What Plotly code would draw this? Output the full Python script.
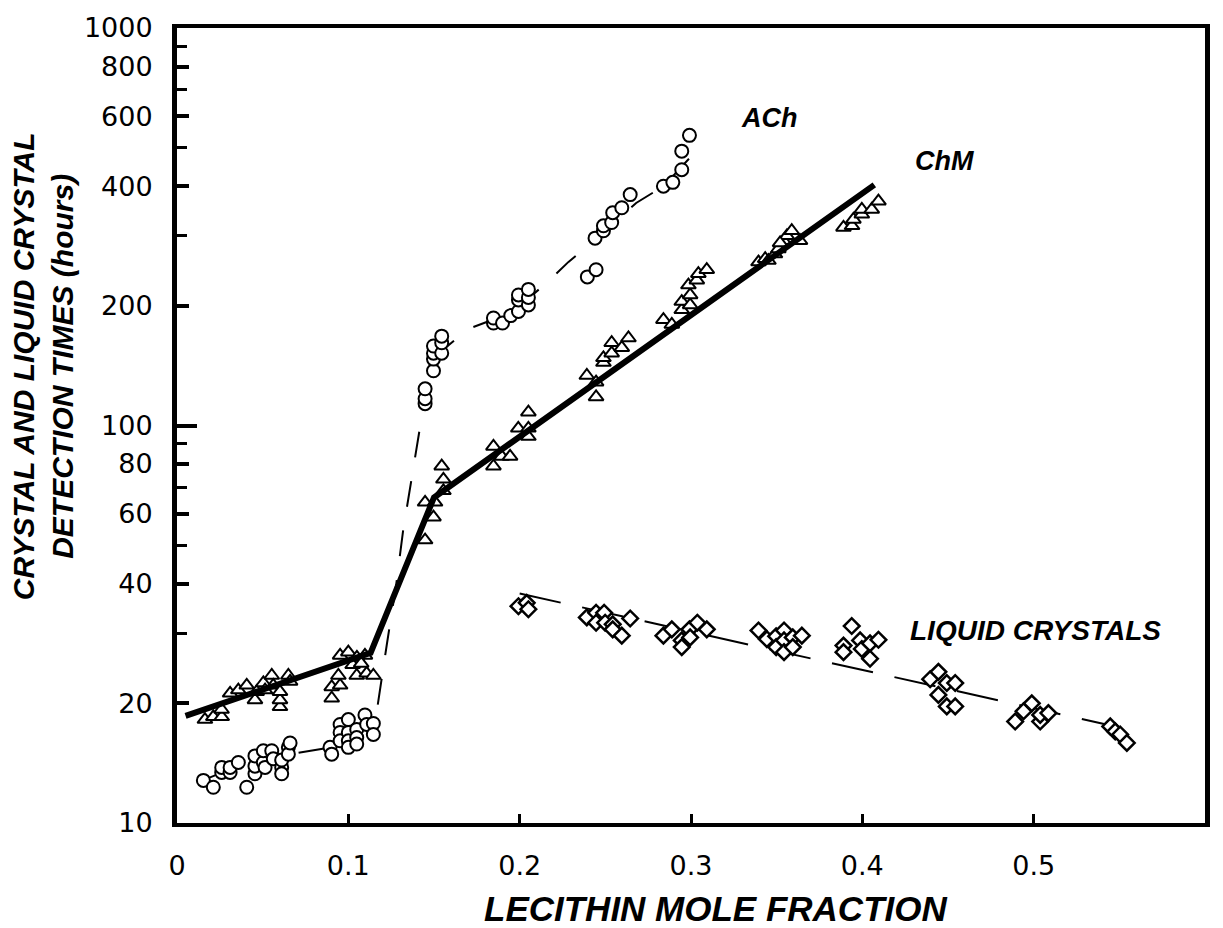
import plotly.graph_objects as go
import numpy as np

# ---------------- data ----------------
# ChM crystals (triangles)
chm_x = [0.0163, 0.0212, 0.0261, 0.026, 0.031, 0.0358, 0.0407, 0.0455, 0.0465, 0.0504, 0.0514,
         0.0553, 0.0562, 0.0601, 0.0601, 0.0601, 0.065, 0.066, 0.0903, 0.0903, 0.0952, 0.0942,
         0.0952, 0.100, 0.1049, 0.1097, 0.1107, 0.1146, 0.105, 0.1025, 0.1075,
         0.1448, 0.1497, 0.1448, 0.1506, 0.1555, 0.1555, 0.1545, 0.1847, 0.1847, 0.1895, 0.1944,
         0.1992, 0.2051, 0.2051, 0.2051, 0.2392, 0.2446, 0.2446, 0.2489, 0.2489, 0.2537, 0.2537,
         0.2596, 0.2635, 0.2839, 0.2888, 0.2946, 0.2946, 0.2995, 0.2995, 0.2985, 0.3034, 0.3043,
         0.3092, 0.3394, 0.3433, 0.3452, 0.349, 0.351, 0.354, 0.356, 0.3588, 0.3636, 0.352,
         0.389, 0.394, 0.3948, 0.3997, 0.3997, 0.4055, 0.4094]
chm_y = [18.2, 18.5, 18.5, 19.3, 21.2, 21.6, 22.2, 20.4, 21.4, 22.5, 21.6,
         23.5, 22.2, 19.6, 20.4, 21.4, 23.5, 22.7, 20.6, 22.0, 22.2, 23.5,
         26.4, 26.9, 23.5, 26.4, 23.8, 23.5, 26.1, 25.0, 25.2,
         51.5, 58.8, 64.1, 64.1, 68.5, 73.2, 79.0, 79.0, 88.6, 83.6, 83.6,
         98.4, 98.4, 93.8, 108, 133.6, 118, 128.5, 144, 148, 152, 161.5,
         157, 166, 184.6, 179.5, 195.5, 205, 201, 213, 225.6, 232, 241,
         246.6, 257.8, 262.7, 260, 270, 278, 291.7, 300, 309, 291.7, 288,
         315, 318, 330, 340, 349.7, 349.7, 366.7]

# ACh crystals (circles)
ach_x = [0.0154, 0.0212, 0.0261, 0.0261, 0.031, 0.031, 0.0358, 0.0407, 0.0455, 0.0455, 0.0455,
         0.0504, 0.0504, 0.0514, 0.0553, 0.0562, 0.0611, 0.0611, 0.0611, 0.065, 0.065, 0.066,
         0.0893, 0.0903, 0.0952, 0.0952, 0.0952, 0.100, 0.100, 0.100, 0.100, 0.1049, 0.1049,
         0.1049, 0.1097, 0.1107, 0.1146, 0.1146,
         0.1448, 0.1448, 0.1448, 0.1497, 0.1497, 0.1497, 0.1497, 0.1545, 0.1545, 0.1545,
         0.1847, 0.1847, 0.190, 0.1948, 0.1993, 0.1993, 0.1993, 0.2051, 0.2051, 0.2051,
         0.2395, 0.2446, 0.244, 0.2489, 0.2489, 0.2537, 0.2543, 0.2596, 0.2645,
         0.2839, 0.2894, 0.2946, 0.2946, 0.2991]
ach_y = [12.8, 12.3, 13.4, 13.8, 13.4, 13.8, 14.2, 12.3, 13.3, 13.9, 14.75,
         14.2, 15.2, 13.8, 15.2, 14.5, 13.8, 13.3, 14.4, 15.5, 14.9, 15.9,
         15.5, 14.9, 17.7, 16.9, 16.1, 18.2, 16.9, 16.1, 15.5, 17.2, 16.4,
         15.8, 18.7, 17.7, 17.8, 16.7,
         113.5, 116.8, 123.7, 137.3, 146.9, 152, 158.5, 152, 161.5, 167.8,
         181, 186.4, 181, 189, 193.6, 207, 213, 201, 210, 220,
         236.5, 246.6, 296, 309, 318, 324, 343, 353, 381,
         400, 409, 440, 490, 537]

# Liquid crystals (diamonds)
lc_x = [0.1993, 0.2041, 0.2051, 0.2392, 0.2446, 0.2493, 0.2446, 0.2499, 0.2543, 0.2543,
        0.2596, 0.2645, 0.2839, 0.2888, 0.2946, 0.2946, 0.2991, 0.2995, 0.3037, 0.3092,
        0.3394, 0.3443, 0.3497, 0.3497, 0.3543, 0.3543, 0.3543, 0.3594, 0.3594, 0.3647,
        0.3938, 0.389, 0.389, 0.3987, 0.3997, 0.4045, 0.4045, 0.4094,
        0.4396, 0.4444, 0.4493, 0.4542, 0.4444, 0.4493, 0.4542,
        0.4892, 0.4941, 0.4989, 0.5038, 0.5038, 0.5086,
        0.5447, 0.5476, 0.5505, 0.5544]
lc_y = [35.1, 35.8, 34.5, 32.9, 33.8, 33.8, 31.9, 31.9, 31.6, 30.7,
        29.6, 32.7, 29.6, 30.7, 28.8, 27.7, 30.7, 29.3, 31.9, 30.7,
        30.5, 29.0, 29.5, 27.7, 30.5, 28.8, 26.9, 29.3, 27.7, 29.6,
        31.3, 27.95, 26.9, 28.8, 27.4, 28.3, 25.9, 28.9,
        23.0, 24.0, 22.5, 22.5, 21.0, 19.65, 19.65,
        18.0, 19.1, 20.0, 18.0, 18.7, 18.9,
        17.5, 17.0, 16.7, 15.9]

# fitted curves
chm_fit_x = [0.005, 0.113, 0.150, 0.407]
chm_fit_y = [18.6, 26.8, 65.9, 403]

ach_fit_x = [0.015, 0.030, 0.070, 0.090, 0.112, 0.1166, 0.1224, 0.128, 0.132, 0.136, 0.142,
             0.145, 0.150, 0.156, 0.170, 0.185, 0.200, 0.216, 0.2285, 0.245, 0.268, 0.284, 0.300]
ach_fit_y = [12.8, 13.6, 15.0, 15.5, 17.5, 19.1, 28, 40, 54.5, 70, 100,
             118, 140, 156, 175, 185, 200, 229, 258, 295, 363, 400, 475]

lc_fit_x = [0.200, 0.545]
lc_fit_y = [37.8, 17.6]

y_tick_vals = [10, 20, 40, 60, 80, 100, 200, 400, 600, 800, 1000]
y_minor_vals = [30, 50, 70, 90, 300, 500, 700, 900]
y_long_ticks = [10, 100, 1000]
x_tick_vals = [0, 0.1, 0.2, 0.3, 0.4, 0.5, 0.6]
x_tick_text = ["0", "0.1", "0.2", "0.3", "0.4", "0.5", "0.6"]

# ---------------- figure ----------------
fig = go.Figure()

fig.add_trace(go.Scatter(x=ach_fit_x, y=ach_fit_y, mode="lines",
                         line=dict(color="black", width=2, dash="26px,24px"),
                         hoverinfo="skip", showlegend=False))
fig.add_trace(go.Scatter(x=lc_fit_x, y=lc_fit_y, mode="lines",
                         line=dict(color="black", width=2, dash="42px,22px"),
                         hoverinfo="skip", showlegend=False))

fig.add_trace(go.Scatter(x=ach_x, y=ach_y, mode="markers", name="ACh",
                         marker=dict(symbol="circle", size=13, color="white",
                                     line=dict(color="black", width=2)),
                         showlegend=False))
fig.add_trace(go.Scatter(x=lc_x, y=lc_y, mode="markers", name="Liquid crystals",
                         marker=dict(symbol="diamond", size=12, color="white",
                                     line=dict(color="black", width=2.5)),
                         showlegend=False))
fig.add_trace(go.Scatter(x=chm_x, y=chm_y, mode="markers", name="ChM",
                         marker=dict(symbol="triangle-up", size=13, color="white",
                                     line=dict(color="black", width=2)),
                         showlegend=False))
fig.add_trace(go.Scatter(x=chm_fit_x, y=chm_fit_y, mode="lines",
                         line=dict(color="black", width=6),
                         hoverinfo="skip", showlegend=False))
# invisible trace on the overlay axis that carries the long decade ticks
fig.add_trace(go.Scatter(x=chm_fit_x, y=chm_fit_y, mode="lines", yaxis="y2",
                         line=dict(color="rgba(0,0,0,0)", width=0),
                         hoverinfo="skip", showlegend=False))

ann_font = dict(family="Liberation Sans, Arial", size=27, color="black")
fig.add_annotation(x=0.346, y=np.log10(593), text="<b><i>ACh</i></b>", showarrow=False, font=ann_font)
fig.add_annotation(x=0.448, y=np.log10(462), text="<b><i>ChM</i></b>", showarrow=False, font=ann_font)
fig.add_annotation(x=0.501, y=np.log10(30.5), text="<b><i>LIQUID CRYSTALS</i></b>", showarrow=False,
                   font=dict(family="Liberation Sans, Arial", size=28, color="black"))

fig.add_annotation(xref="paper", yref="paper", x=-0.13, y=0.575, textangle=-90,
                   text="<b><i>CRYSTAL AND LIQUID CRYSTAL<br>DETECTION TIMES (hours)</i></b>",
                   showarrow=False, xanchor="center", yanchor="middle",
                   font=dict(family="Liberation Sans, Arial", size=30, color="black"))
fig.add_annotation(xref="paper", yref="paper", x=0.524, y=-0.108,
                   text="<b><i>LECITHIN MOLE FRACTION</i></b>",
                   showarrow=False, xanchor="center", yanchor="middle",
                   font=dict(family="Liberation Sans, Arial", size=35, color="black"))

tick_font = dict(family="DejaVu Sans", size=27, color="black")

fig.update_xaxes(range=[0, 0.6], tickmode="array", tickvals=x_tick_vals, ticktext=x_tick_text,
                 showline=True, linecolor="black", linewidth=4, mirror=True,
                 ticks="inside", ticklen=9, tickwidth=3, tickcolor="black",
                 showgrid=False, zeroline=False, tickfont=tick_font, ticklabelstandoff=16)
fig.update_yaxes(type="log", range=[1, 3], tickmode="array", tickvals=y_tick_vals,
                 ticktext=[str(v) for v in y_tick_vals],
                 showline=True, linecolor="black", linewidth=5, mirror=True,
                 ticks="inside", ticklen=12, tickwidth=4, tickcolor="black",
                 minor=dict(tickmode="array", tickvals=y_minor_vals, ticks="inside",
                            ticklen=10, tickwidth=3, tickcolor="black", showgrid=False),
                 showgrid=False, zeroline=False, tickfont=tick_font, ticklabelstandoff=14)

fig.update_layout(width=1223, height=928, autosize=False,
                  margin=dict(l=177, r=18, t=18, b=105),
                  paper_bgcolor="white", plot_bgcolor="white",
                  yaxis2=dict(type="log", range=[1, 3], overlaying="y", side="left",
                              tickmode="array", tickvals=y_long_ticks, showticklabels=False,
                              ticks="inside", ticklen=20, tickwidth=4, tickcolor="black",
                              showgrid=False, zeroline=False, showline=False))

fig.write_html("out.html")
